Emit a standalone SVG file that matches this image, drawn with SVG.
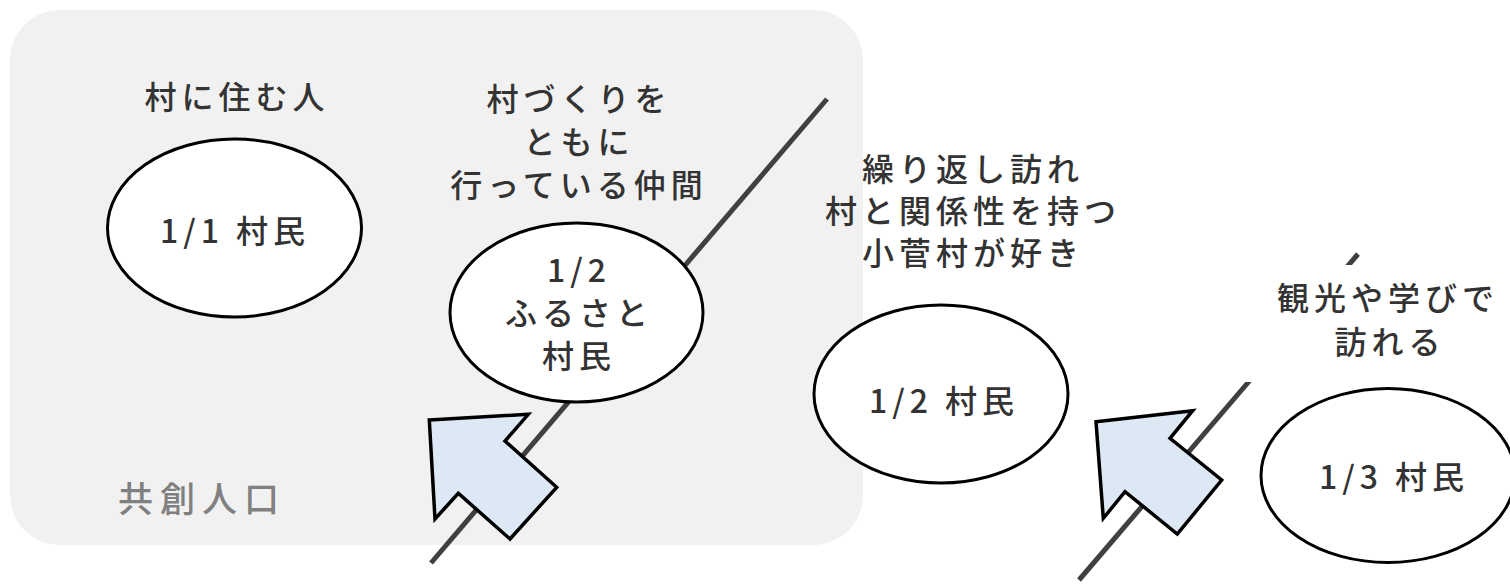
<svg xmlns="http://www.w3.org/2000/svg" width="1510" height="585" viewBox="0 0 1510 585">
  <style>
    .t { font-family: "Noto Sans CJK JP", "Noto Sans", sans-serif; font-size: 32px; font-weight: 500; fill: #333333; letter-spacing: 5px; text-anchor: middle; }
    .ell { fill: #ffffff; stroke: #000000; stroke-width: 3; }
    .arr { fill: #dde8f5; stroke: #000000; stroke-width: 3.5; stroke-linejoin: miter; }
    .ln { stroke: #404040; stroke-width: 5; fill: none; }
  </style>
  <rect id="group-bg" x="10" y="10" width="853" height="535" rx="50" ry="50" fill="#f1f1f1"/>
  <g id="connectors">
    <line class="ln" x1="431" y1="563" x2="827" y2="99"/>
    <line class="ln" x1="1079" y1="580" x2="1358" y2="254"/>
  </g>
  <g id="label-resident">
    <text class="t" x="237" y="109">村に住む人</text>
  </g>
  <g id="node-1-1">
    <ellipse class="ell" cx="234.5" cy="228" rx="127" ry="89"/>
    <text class="t" x="235" y="243">1/1 村民</text>
  </g>
  <g id="label-nakama">
    <text class="t" x="579" y="111">村づくりを</text>
    <text class="t" x="579" y="154">ともに</text>
    <text class="t" x="579" y="197">行っている仲間</text>
  </g>
  <g id="node-furusato">
    <ellipse class="ell" cx="576.5" cy="312.5" rx="126.5" ry="89.5"/>
    <text class="t" x="579" y="282">1/2</text>
    <text class="t" x="579" y="325">ふるさと</text>
    <text class="t" x="579" y="368">村民</text>
  </g>
  <g id="label-repeat">
    <text class="t" x="973" y="181">繰り返し訪れ</text>
    <text class="t" x="973" y="223">村と関係性を持つ</text>
    <text class="t" x="973" y="265">小菅村が好き</text>
  </g>
  <g id="node-1-2">
    <ellipse class="ell" cx="941" cy="394" rx="127" ry="89"/>
    <text class="t" x="944" y="413">1/2 村民</text>
  </g>
  <g id="label-visit">
    <rect x="1245" y="265" width="270" height="117" fill="#ffffff"/>
    <text class="t" x="1388" y="310">観光や学びで</text>
    <text class="t" x="1390" y="354">訪れる</text>
  </g>
  <g id="node-1-3">
    <ellipse class="ell" cx="1388" cy="475.5" rx="127" ry="87"/>
    <text class="t" x="1394" y="489">1/3 村民</text>
  </g>
  <g id="arrow-1">
    <polygon class="arr" points="429.3,420 528.3,414.3 505,441 556.7,487.3 510,539 458.3,493.3 435,519"/>
  </g>
  <g id="arrow-2">
    <polygon class="arr" points="1096,421.7 1192.7,410.7 1170,438.3 1221.7,480 1177.3,534 1125,491.7 1103.3,518.3"/>
  </g>
  <g id="label-kyoso">
    <text class="t" x="118" y="512" style="text-anchor: start; fill: #808080; font-size: 35px; letter-spacing: 7px;">共創人口</text>
  </g>
</svg>
